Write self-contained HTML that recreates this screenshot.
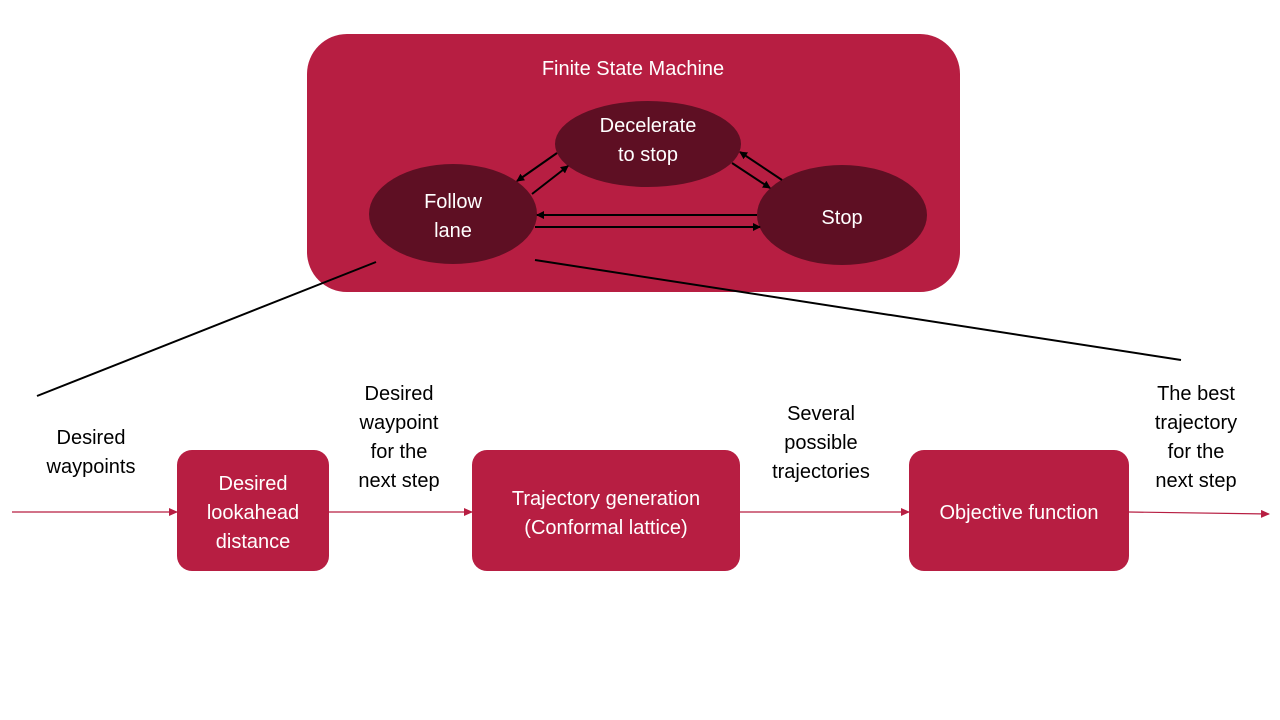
<!DOCTYPE html>
<html><head><style>body{margin:0;background:#fff}svg{display:block}text{font-family:"Liberation Sans",sans-serif;font-size:20px}</style></head><body>
<svg width="1280" height="720" xmlns="http://www.w3.org/2000/svg">
<defs>
<marker id="a" markerWidth="8" markerHeight="8" refX="7" refY="4" orient="auto" markerUnits="userSpaceOnUse"><path d="M0,0L8,4L0,8z" fill="#000"/></marker>
<marker id="r" markerWidth="9" markerHeight="8" refX="8" refY="4" orient="auto" markerUnits="userSpaceOnUse"><path d="M0,0L9,4L0,8z" fill="#B71E42"/></marker>
</defs>
<rect x="307" y="34" width="653" height="258" rx="40" fill="#B71E42"/>
<text x="633" y="75" fill="#fff" text-anchor="middle">Finite State Machine</text>
<ellipse cx="453" cy="214" rx="84" ry="50" fill="#5E0F23"/>
<ellipse cx="648" cy="144" rx="93" ry="43" fill="#5E0F23"/>
<ellipse cx="842" cy="215" rx="85" ry="50" fill="#5E0F23"/>
<g fill="#fff" text-anchor="middle" font-size="21">
<text x="453" y="208">Follow</text><text x="453" y="237">lane</text>
<text x="648" y="132">Decelerate</text><text x="648" y="161">to stop</text>
<text x="842" y="224">Stop</text>
</g>
<g stroke="#000" stroke-width="2" fill="none" marker-end="url(#a)">
<line x1="557" y1="153" x2="517" y2="181"/>
<line x1="532" y1="194" x2="568" y2="166"/>
<line x1="732" y1="163" x2="770" y2="188"/>
<line x1="782" y1="180" x2="740" y2="152"/>
<line x1="757" y1="215" x2="537" y2="215"/>
<line x1="535" y1="227" x2="760" y2="227"/>
</g>
<g stroke="#000" stroke-width="2">
<line x1="376" y1="262" x2="37" y2="396"/>
<line x1="535" y1="260" x2="1181" y2="360"/>
</g>
<g stroke="#B71E42" stroke-width="1.2" marker-end="url(#r)">
<line x1="12" y1="512" x2="177" y2="512"/>
<line x1="329" y1="512" x2="472" y2="512"/>
<line x1="740" y1="512" x2="909" y2="512"/>
<line x1="1129" y1="512" x2="1269" y2="514"/>
</g>
<rect x="177" y="450" width="152" height="121" rx="15" fill="#B71E42"/>
<rect x="472" y="450" width="268" height="121" rx="15" fill="#B71E42"/>
<rect x="909" y="450" width="220" height="121" rx="15" fill="#B71E42"/>
<g fill="#fff" text-anchor="middle" font-size="21">
<text x="253" y="490">Desired</text><text x="253" y="519">lookahead</text><text x="253" y="548">distance</text>
<text x="606" y="505">Trajectory generation</text><text x="606" y="534">(Conformal lattice)</text>
<text x="1019" y="519">Objective function</text>
</g>
<g fill="#000" text-anchor="middle" font-size="21">
<text x="91" y="444">Desired</text><text x="91" y="473">waypoints</text>
<text x="399" y="400">Desired</text><text x="399" y="429">waypoint</text><text x="399" y="458">for the</text><text x="399" y="487">next step</text>
<text x="821" y="420">Several</text><text x="821" y="449">possible</text><text x="821" y="478">trajectories</text>
<text x="1196" y="400">The best</text><text x="1196" y="429">trajectory</text><text x="1196" y="458">for the</text><text x="1196" y="487">next step</text>
</g>
</svg>
</body></html>
